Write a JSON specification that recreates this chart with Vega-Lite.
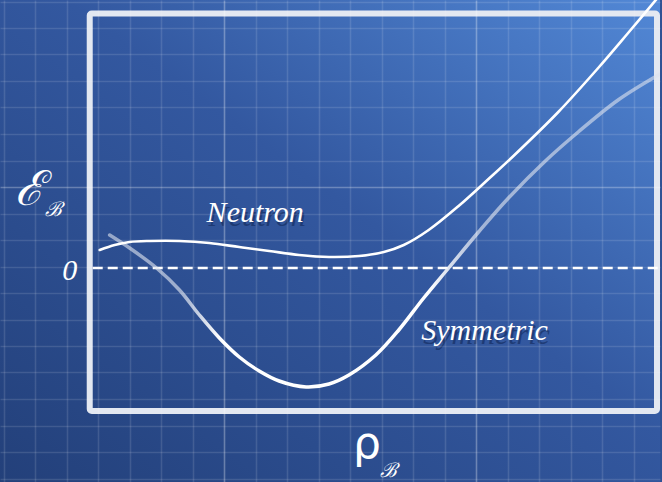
{
  "$schema": "https://vega.github.io/schema/vega-lite/v6.json",
  "autosize": {"type": "fit", "contains": "padding"},
  "width": 662,
  "height": 482,
  "padding": 0,
  "background": "#2f5194",
  "config": {"view": {"stroke": null}},
  "datasets": {
    "backdrop": [{"x": -0.9, "x2": 5.72, "y": -2.14, "y2": 2.68}],
    "frame": [{"x": 0, "x2": 5.69, "y": -1.43, "y2": 2.545}],
    "zeroLine": [{"x": 0.03, "x2": 5.72, "y": 0}],
    "neutron": [
      {"x": 0.10, "y": 0.18}, {"x": 0.25, "y": 0.23}, {"x": 0.40, "y": 0.26},
      {"x": 0.60, "y": 0.27}, {"x": 0.90, "y": 0.27}, {"x": 1.20, "y": 0.25},
      {"x": 1.50, "y": 0.21}, {"x": 1.80, "y": 0.17}, {"x": 2.10, "y": 0.13},
      {"x": 2.40, "y": 0.11}, {"x": 2.70, "y": 0.12}, {"x": 2.95, "y": 0.16},
      {"x": 3.15, "y": 0.23}, {"x": 3.40, "y": 0.38}, {"x": 3.70, "y": 0.62},
      {"x": 4.00, "y": 0.89}, {"x": 4.25, "y": 1.12}, {"x": 4.70, "y": 1.56},
      {"x": 5.10, "y": 2.00}, {"x": 5.40, "y": 2.35}, {"x": 5.72, "y": 2.73}
    ],
    "symmetric": [
      {"x": 0.20, "y": 0.33}, {"x": 0.40, "y": 0.20}, {"x": 0.67, "y": 0.00},
      {"x": 0.90, "y": -0.22}, {"x": 1.10, "y": -0.47}, {"x": 1.30, "y": -0.70},
      {"x": 1.50, "y": -0.89}, {"x": 1.70, "y": -1.03}, {"x": 1.90, "y": -1.13},
      {"x": 2.17, "y": -1.19}, {"x": 2.40, "y": -1.16}, {"x": 2.60, "y": -1.07},
      {"x": 2.87, "y": -0.87}, {"x": 3.10, "y": -0.62}, {"x": 3.35, "y": -0.30},
      {"x": 3.60, "y": 0.00}, {"x": 3.90, "y": 0.36}, {"x": 4.20, "y": 0.70},
      {"x": 4.57, "y": 1.07}, {"x": 4.90, "y": 1.36}, {"x": 5.30, "y": 1.68},
      {"x": 5.72, "y": 1.94}
    ],
    "curveLabels": [
      {"x": 1.66, "y": 0.46, "label": "Neutron"},
      {"x": 3.96, "y": -0.72, "label": "Symmetric"}
    ],
    "zeroLabel": [{"x": -0.2, "y": -0.12, "label": "0"}],
    "energySymbol": [{"x": -0.6, "y": 0.63, "label": "ℰ"}],
    "densitySymbol": [{"x": 2.78, "y": -1.9, "label": "ρ"}],
    "subscripts": [
      {"x": -0.36, "y": 0.52, "label": "ℬ"},
      {"x": 3.0, "y": -2.09, "label": "ℬ"}
    ]
  },
  "encoding": {
    "x": {
      "field": "x",
      "type": "quantitative",
      "scale": {"domain": [-0.9, 5.72], "nice": false, "zero": false},
      "axis": {
        "values": [-0.862, -0.546, -0.23, 0.086, 0.402, 0.718, 1.034, 1.35, 1.666, 1.982, 2.298, 2.614, 2.93, 3.246, 3.562, 3.878, 4.194, 4.51, 4.826, 5.142, 5.458],
        "grid": true,
        "gridColor": "#ffffff",
        "gridOpacity": {"condition": {"test": "abs(datum.value - 1.35) < 0.01 || abs(datum.value - 3.878) < 0.01", "value": 0.3}, "value": 0.12},
        "gridWidth": 1.6,
        "labels": false,
        "ticks": false,
        "domain": false,
        "title": null,
        "minExtent": 0,
        "maxExtent": 0,
        "zindex": 1
      }
    },
    "y": {
      "field": "y",
      "type": "quantitative",
      "scale": {"domain": [-2.14, 2.68], "nice": false, "zero": false},
      "axis": {
        "values": [2.665, 2.4, 2.135, 1.87, 1.605, 1.34, 1.075, 0.81, 0.545, 0.28, 0.015, -0.25, -0.515, -0.78, -1.045, -1.31, -1.575, -1.84, -2.105],
        "grid": true,
        "gridColor": "#ffffff",
        "gridOpacity": {"condition": {"test": "abs(datum.value - 0.81) < 0.01", "value": 0.28}, "value": 0.12},
        "gridWidth": 1.6,
        "labels": false,
        "ticks": false,
        "domain": false,
        "title": null,
        "minExtent": 0,
        "maxExtent": 0,
        "zindex": 1
      }
    }
  },
  "layer": [
    {
      "data": {"name": "backdrop"},
      "mark": {
        "type": "rect",
        "fill": {
          "gradient": "linear", "x1": 0, "y1": 1, "x2": 1, "y2": 0,
          "stops": [
            {"offset": 0, "color": "#23407a"},
            {"offset": 0.55, "color": "#3358a0"},
            {"offset": 1, "color": "#5288d6"}
          ]
        },
        "clip": true
      },
      "encoding": {"x2": {"field": "x2"}, "y2": {"field": "y2"}}
    },
    {
      "data": {"name": "frame"},
      "mark": {"type": "rect", "filled": false, "stroke": "#e3e8f1", "strokeWidth": 6, "cornerRadius": 2},
      "encoding": {"x2": {"field": "x2"}, "y2": {"field": "y2"}}
    },
    {
      "data": {"name": "zeroLine"},
      "mark": {"type": "rule", "color": "#ffffff", "strokeWidth": 2.5, "strokeDash": [10, 5]},
      "encoding": {"x2": {"field": "x2"}}
    },
    {
      "data": {"name": "symmetric"},
      "mark": {
        "type": "line",
        "interpolate": "catmull-rom",
        "strokeWidth": 3.5,
        "strokeCap": "round",
        "clip": true,
        "stroke": {
          "gradient": "linear", "x1": 0, "y1": 0, "x2": 1, "y2": 0,
          "stops": [
            {"offset": 0, "color": "rgba(220,226,238,0.6)"},
            {"offset": 0.13, "color": "rgba(220,226,238,0.65)"},
            {"offset": 0.2, "color": "#ffffff"},
            {"offset": 0.58, "color": "#ffffff"},
            {"offset": 0.68, "color": "rgba(220,226,238,0.65)"},
            {"offset": 1, "color": "rgba(220,226,238,0.6)"}
          ]
        }
      }
    },
    {
      "data": {"name": "neutron"},
      "mark": {"type": "line", "interpolate": "catmull-rom", "color": "#ffffff", "strokeWidth": 2.6, "strokeCap": "round", "clip": true}
    },
    {
      "data": {"name": "curveLabels"},
      "mark": {"type": "text", "font": "Liberation Serif", "fontStyle": "italic", "fontSize": 30, "color": "#081a45", "opacity": 0.45, "dx": 2, "dy": 4, "align": "center", "baseline": "alphabetic"},
      "encoding": {"text": {"field": "label"}}
    },
    {
      "data": {"name": "curveLabels"},
      "mark": {"type": "text", "font": "Liberation Serif", "fontStyle": "italic", "fontSize": 30, "color": "#ffffff", "align": "center", "baseline": "alphabetic"},
      "encoding": {"text": {"field": "label"}}
    },
    {
      "data": {"name": "zeroLabel"},
      "mark": {"type": "text", "font": "Liberation Serif", "fontStyle": "italic", "fontSize": 30, "color": "#ffffff", "align": "center", "baseline": "alphabetic"},
      "encoding": {"text": {"field": "label"}}
    },
    {
      "data": {"name": "energySymbol"},
      "mark": {"type": "text", "font": "DejaVu Serif", "fontStyle": "italic", "fontSize": 48, "color": "#ffffff", "align": "center", "baseline": "alphabetic", "clip": true},
      "encoding": {"text": {"field": "label"}}
    },
    {
      "data": {"name": "densitySymbol"},
      "mark": {"type": "text", "font": "DejaVu Sans", "fontSize": 44, "color": "#ffffff", "align": "center", "baseline": "alphabetic", "clip": true},
      "encoding": {"text": {"field": "label"}}
    },
    {
      "data": {"name": "subscripts"},
      "mark": {"type": "text", "font": "DejaVu Serif", "fontStyle": "italic", "fontSize": 20, "color": "#ffffff", "align": "center", "baseline": "alphabetic", "clip": true},
      "encoding": {"text": {"field": "label"}}
    }
  ]
}
